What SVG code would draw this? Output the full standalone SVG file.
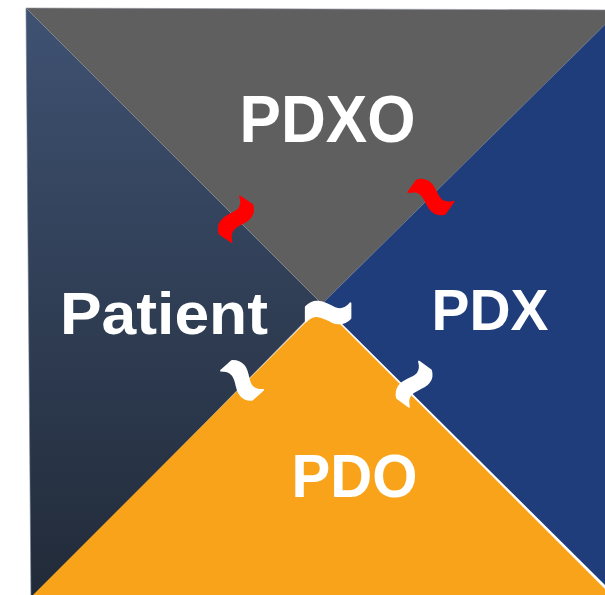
<svg xmlns="http://www.w3.org/2000/svg" width="605" height="595" viewBox="0 0 605 595">
  <defs>
    <linearGradient id="gLeft" x1="0" y1="0" x2="0" y2="1">
      <stop offset="0" stop-color="#3f5272"/>
      <stop offset="1" stop-color="#212a38"/>
    </linearGradient>
    <style>
      .lbl { font-family: "Liberation Sans", Arial, sans-serif; font-weight: bold; fill: #ffffff; text-anchor: middle; }
      .tl { font-family: "Liberation Sans", Arial, sans-serif; font-weight: bold; text-anchor: middle; font-size: 84px; stroke-width: 1.6; stroke-linejoin: round; }
      .red { fill: #ff0000; stroke: #ff0000; }
      .wht { fill: #ffffff; stroke: #ffffff; }
    </style>
  </defs>
  <rect width="605" height="595" fill="#ffffff"/>
  <g id="quadrants">
    <g id="patient-area"><polygon points="26,8 322,304 31,600 " fill="url(#gLeft)" stroke="#6b7a90" stroke-width="0.6"/></g>
    <g id="pdxo-area"><polygon points="26,8 620,10 322,304" fill="#5f5f5f" stroke="#8a8f98" stroke-width="0.6"/></g>
    <g id="pdx-area"><polygon points="620,10 322,304 620,600" fill="#1f3d7a"/></g>
    <g id="pdo-area"><polygon points="322,306 30,598 614,598" fill="#f9a31b"/></g>
  </g>
  <g id="labels">
    <text class="lbl" x="327.5" y="142" font-size="67" textLength="176" lengthAdjust="spacingAndGlyphs">PDXO</text>
    <text class="lbl" x="164" y="334" font-size="59" textLength="208" lengthAdjust="spacingAndGlyphs">Patient</text>
    <text class="lbl" x="490" y="330" font-size="57" textLength="117" lengthAdjust="spacingAndGlyphs">PDX</text>
    <text class="lbl" x="354.5" y="497" font-size="62" textLength="126" lengthAdjust="spacingAndGlyphs">PDO</text>
  </g>
  <g id="connectors">
    <g transform="translate(237,220) rotate(-56) scale(1,1.6)"><text class="tl red" x="0" y="27">~</text></g>
    <g transform="translate(430,198) rotate(35) scale(1,1.6)"><text class="tl red" x="0" y="27">~</text></g>
    <g transform="translate(328,314) scale(1.05,1.6)"><text class="tl wht" x="0" y="27">~</text></g>
    <g transform="translate(241,381) rotate(48) scale(1,1.6)"><text class="tl wht" x="0" y="27">~</text></g>
    <g transform="translate(415,385) rotate(-54) scale(1,1.6)"><text class="tl wht" x="0" y="27">~</text></g>
  </g>
</svg>
